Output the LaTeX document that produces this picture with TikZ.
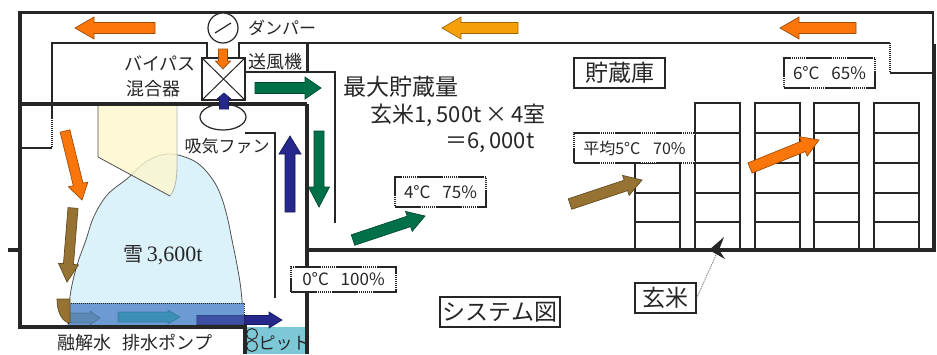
\documentclass[tikz,border=0pt]{standalone}
\usepackage{fontspec}
\setmainfont{Noto Sans CJK JP}
\newfontfamily\serifnum{Liberation Serif}
\usetikzlibrary{calc,shapes.geometric}

\definecolor{ink}{RGB}{38,38,38}
\definecolor{airorange}{RGB}{250,118,10}
\definecolor{airamber}{RGB}{245,160,10}
\definecolor{airgreen}{RGB}{0,112,72}
\definecolor{airblue}{RGB}{38,40,140}
\definecolor{airbrown}{RGB}{150,115,50}
\definecolor{snowblue}{RGB}{220,242,250}
\definecolor{paleyellow}{RGB}{253,248,205}
\definecolor{meltblue}{RGB}{108,155,212}
\definecolor{pitcyan}{RGB}{125,200,215}
\definecolor{melttealA}{RGB}{85,128,168}
\definecolor{melttealB}{RGB}{40,140,172}

\newcommand\jfs[1]{\fontsize{#1}{#1}\selectfont}

% block arrow: #1 colour, #2 tail, #3 tip, #4 half body, #5 half head, #6 head length
\newcommand\flowarrow[6]{%
  \coordinate (fa-base) at ($#3!#6!#2$);
  \filldraw[fill=#1, draw=#1!65!black, line width=0.7pt, line join=miter]
    ($#2!#4!90:#3$) -- ($(fa-base)!#4!90:#3$) -- ($(fa-base)!#5!90:#3$) -- #3
    -- ($(fa-base)!#5!-90:#3$) -- ($(fa-base)!#4!-90:#3$) -- ($#2!#4!-90:#3$) -- cycle;
}

\tikzset{
  wall/.style={line width=4pt, draw=ink},
  roofline/.style={line width=3pt, draw=ink},
  duct/.style={line width=1.4pt, draw=ink},
  rack/.style={line width=1.6pt, draw=ink},
  tag/.style={draw=ink, fill=white, line width=1.4pt, inner sep=0pt, text=ink},
  mixtag/.style={tag, dash pattern=on 26pt off 1pt on 1pt off 1pt on 1pt off 1pt on 1pt off 1pt on 1pt off 1pt on 1pt off 1pt on 1pt off 1pt on 1pt off 1pt},
  lbl/.style={text=ink, inner sep=0pt},
}

\begin{document}
\begin{tikzpicture}[x=1pt,y=-1pt]
\useasboundingbox (0,0) rectangle (937,354);
\fill[white] (0,0) rectangle (937,354);

% ---------- snow room fills ----------
\fill[pitcyan] (245,327) rectangle (307,354);
\filldraw[fill=snowblue, draw=ink!80, line width=0.8pt]
  plot[smooth, tension=0.6] coordinates {(68,326) (69,305) (72,285) (78,262) (86,240) (92,221) (100,205) (110,192) (128,178) (147,161) (167,154) (185,157) (200,165) (213,180) (221,196) (227,216) (232,240) (237,265) (241,290) (244,326)} -- cycle;
\fill[paleyellow, fill opacity=0.8] (98,104) -- (98,157) -- (170,196) .. controls (175,190) and (177,180) .. (177,165) -- (177,104) -- cycle;
\draw[ink!80, line width=0.8pt] (98,104) -- (98,157) -- (170,196);
\draw[ink!35, line width=0.8pt] (170,196) .. controls (175,190) and (177,180) .. (177,165) -- (177,104);

% melt water layer
\fill[meltblue] (68,303) rectangle (244,326);
\begin{scope}[fill opacity=0.7, draw opacity=0.4]
\coordinate (mA-t) at (68,318); \coordinate (mA-h) at (100,318);
\flowarrow{melttealA}{(mA-t)}{(mA-h)}{5pt}{7pt}{10pt}
\coordinate (mB-t) at (118,317); \coordinate (mB-h) at (180,317);
\flowarrow{melttealB}{(mB-t)}{(mB-h)}{5pt}{7pt}{12pt}
\end{scope}
\coordinate (drain-t) at (197,320); \coordinate (drain-h) at (282,320);
\flowarrow{airblue}{(drain-t)}{(drain-h)}{4.5pt}{8pt}{13pt}
\fill[meltblue, fill opacity=0.35] (197,303) rectangle (244,326);
\draw[ink, line width=1pt, dash pattern=on 1pt off 1pt] (68,326) -- (68,303) -- (244,303) -- (244,326);

% ---------- building walls ----------
\draw[roofline] (20,12) -- (934,12);
\draw[duct] (933,12) -- (933,45);
\draw[wall] (20,11) -- (20,327) -- (245,327) -- (245,354);
\draw[wall] (8,250) -- (20,250);
\draw[wall] (20,104) -- (307,104);
\draw[wall] (307,104) -- (307,354);
\draw[roofline] (307,43) -- (307,72);
\draw[wall] (307,250) -- (936,250);
\draw[wall] (934,44) -- (934,252);

% ---------- ducts ----------
\draw[duct] (22,148) -- (52,148);
\draw[duct] (52,118) -- (52,43) -- (207,43) -- (207,58);
\draw[duct, dash pattern=on 1pt off 1pt] (52,118) -- (52,148);
\draw[duct] (239,58) -- (239,43) -- (890,43);
\draw[duct, dash pattern=on 1pt off 1pt] (890,43) -- (890,73);
\draw[duct] (890,73) -- (934,73);
\draw[duct] (245,72) -- (335,72) -- (335,223);
\draw[duct] (245,133) -- (275,133) -- (275,298);

% ---------- equipment ----------
\node[circle, draw=ink, fill=white, line width=1.2pt, minimum size=30pt, inner sep=0pt] (damper) at (223,28) {};
\draw[ink, line width=1.2pt] ($(damper.center)+(-8,5)$) -- ($(damper.center)+(8,-5)$);
\node[draw=ink, fill=white, line width=1.2pt, minimum width=43pt, minimum height=42pt, inner sep=0pt] (mixer) at (223.5,79) {};
\draw[ink, line width=1pt] (mixer.north west) -- (mixer.south east) (mixer.north east) -- (mixer.south west);
\node[ellipse, draw=ink, line width=1.2pt, minimum width=46pt, minimum height=26pt, inner sep=0pt] (fan) at (223,117) {};

% ---------- rice racks ----------
\foreach \x in {695,755,814,874} {
  \draw[rack] (\x,103) rectangle (\x+45,250);
  \foreach \y in {133,163,193,222} \draw[rack] (\x,\y) -- (\x+45,\y);
}
\draw[rack] (635,163) rectangle (680,250);
\foreach \y in {193,222} \draw[rack] (635,\y) -- (680,\y);
\draw[wall] (630,250) -- (936,250);

% ---------- air flow arrows ----------
\coordinate (o1-t) at (155,28); \coordinate (o1-h) at (75,28);
\flowarrow{airorange}{(o1-t)}{(o1-h)}{5.5pt}{11pt}{19pt}
\coordinate (o2-t) at (518,28); \coordinate (o2-h) at (442,28);
\flowarrow{airamber}{(o2-t)}{(o2-h)}{5.5pt}{11pt}{19pt}
\coordinate (o3-t) at (856,28); \coordinate (o3-h) at (780,28);
\flowarrow{airorange}{(o3-t)}{(o3-h)}{5.5pt}{11pt}{19pt}
\coordinate (mx-t) at (223,49); \coordinate (mx-h) at (223,69);
\flowarrow{airorange}{(mx-t)}{(mx-h)}{4.5pt}{7.5pt}{8pt}
\coordinate (fb-t) at (224,109); \coordinate (fb-h) at (224,93);
\flowarrow{airblue}{(fb-t)}{(fb-h)}{4.5pt}{7pt}{6pt}
\coordinate (g1-t) at (255,88); \coordinate (g1-h) at (321,88);
\flowarrow{airgreen}{(g1-t)}{(g1-h)}{5.5pt}{11pt}{16pt}
\coordinate (b1-t) at (290,212); \coordinate (b1-h) at (290,136);
\flowarrow{airblue}{(b1-t)}{(b1-h)}{5pt}{11pt}{18pt}
\coordinate (g2-t) at (319,131); \coordinate (g2-h) at (319,207);
\flowarrow{airgreen}{(g2-t)}{(g2-h)}{5pt}{10.5pt}{20pt}
\coordinate (g3-t) at (353,240); \coordinate (g3-h) at (425,216);
\flowarrow{airgreen}{(g3-t)}{(g3-h)}{5.5pt}{10.5pt}{17pt}
\coordinate (w1-t) at (570,204); \coordinate (w1-h) at (642,180);
\flowarrow{airbrown}{(w1-t)}{(w1-h)}{5.5pt}{10.5pt}{17pt}
\coordinate (o4-t) at (750,168); \coordinate (o4-h) at (819,140);
\flowarrow{airorange}{(o4-t)}{(o4-h)}{5.5pt}{10.5pt}{17pt}
\coordinate (o5-t) at (65,131); \coordinate (o5-h) at (82,200);
\flowarrow{airorange}{(o5-t)}{(o5-h)}{5pt}{10pt}{16pt}
\coordinate (w2-t) at (73,208); \coordinate (w2-h) at (67,282);
\flowarrow{airbrown}{(w2-t)}{(w2-h)}{5pt}{10pt}{18pt}
\filldraw[fill=airbrown, draw=airbrown!65!black, line width=0.7pt] (57,299) -- (70,299) -- (70,323) .. controls (62,322) and (57,312) .. (57,299) -- cycle;

% ---------- pit ----------
\draw[ink, line width=1pt] (252,334) circle [radius=5.5pt] (252,346) circle [radius=5.5pt];
\node[lbl, font=\jfs{17}] (pit) at (284,343) {ピット};

% ---------- labels ----------
\node[lbl, font=\jfs{17}] (damperlbl) at (282,28) {ダンパー};
\node[lbl, font=\jfs{18}] (bypass1) at (160,63) {バイパス};
\node[lbl, font=\jfs{18}] (bypass2) at (153,89) {混合器};
\node[lbl, font=\jfs{18}] (blower) at (275,62) {送風機};
\node[lbl, font=\jfs{17}] (intake) at (227,146) {吸気ファン};
\node[lbl, font=\jfs{23}] (cap1) at (401,87) {最大貯蔵量};
\node[lbl, font=\jfs{22}] (cap2) at (458,115) {玄米1,\,500t\,×\,4室};
\node[lbl, font=\jfs{22}] (cap3) at (490,143) {＝6,\,000t};
\node[lbl, font=\jfs{20}] (snowlbl) at (163,255) {雪\,{\serifnum\jfs{22}3,600t}};
\node[lbl, font=\jfs{18}] (meltlbl) at (135,343) {融解水\hspace{0.6em}排水ポンプ};

\node[tag, minimum width=91pt, minimum height=30pt, font=\jfs{23}] (storeTag) at (619.5,73) {貯蔵庫};
\node[mixtag, minimum width=91pt, minimum height=30pt, font=\jfs{17}] (t6) at (829.5,73) {6°C\hspace{0.7em}65\%};
\node[mixtag, minimum width=121pt, minimum height=30pt, font=\jfs{16}] (t5) at (634.5,148) {平均5°C\hspace{0.8em}70\%};
\node[mixtag, minimum width=91pt, minimum height=30pt, font=\jfs{17}] (t4) at (440.5,192) {4°C\hspace{0.7em}75\%};
\node[mixtag, minimum width=105pt, minimum height=25pt, font=\jfs{17}] (t0) at (343.5,279.5) {0°C\hspace{0.7em}100\%};
\node[tag, minimum width=120pt, minimum height=30pt, font=\jfs{23}] (sysTag) at (500,312) {システム図};
\node[tag, minimum width=61pt, minimum height=30pt, font=\jfs{23}] (riceTag) at (665.5,298) {玄米};

% rice pointer
\coordinate (riceTip) at (716,255);
\draw[ink!70, line width=0.8pt, dash pattern=on 1pt off 1pt] (riceTag.east) -- (riceTip);
\fill[ink] (724,237) -- (709,250) -- (725,259) -- (719,250) -- cycle;
\end{tikzpicture}
\end{document}
